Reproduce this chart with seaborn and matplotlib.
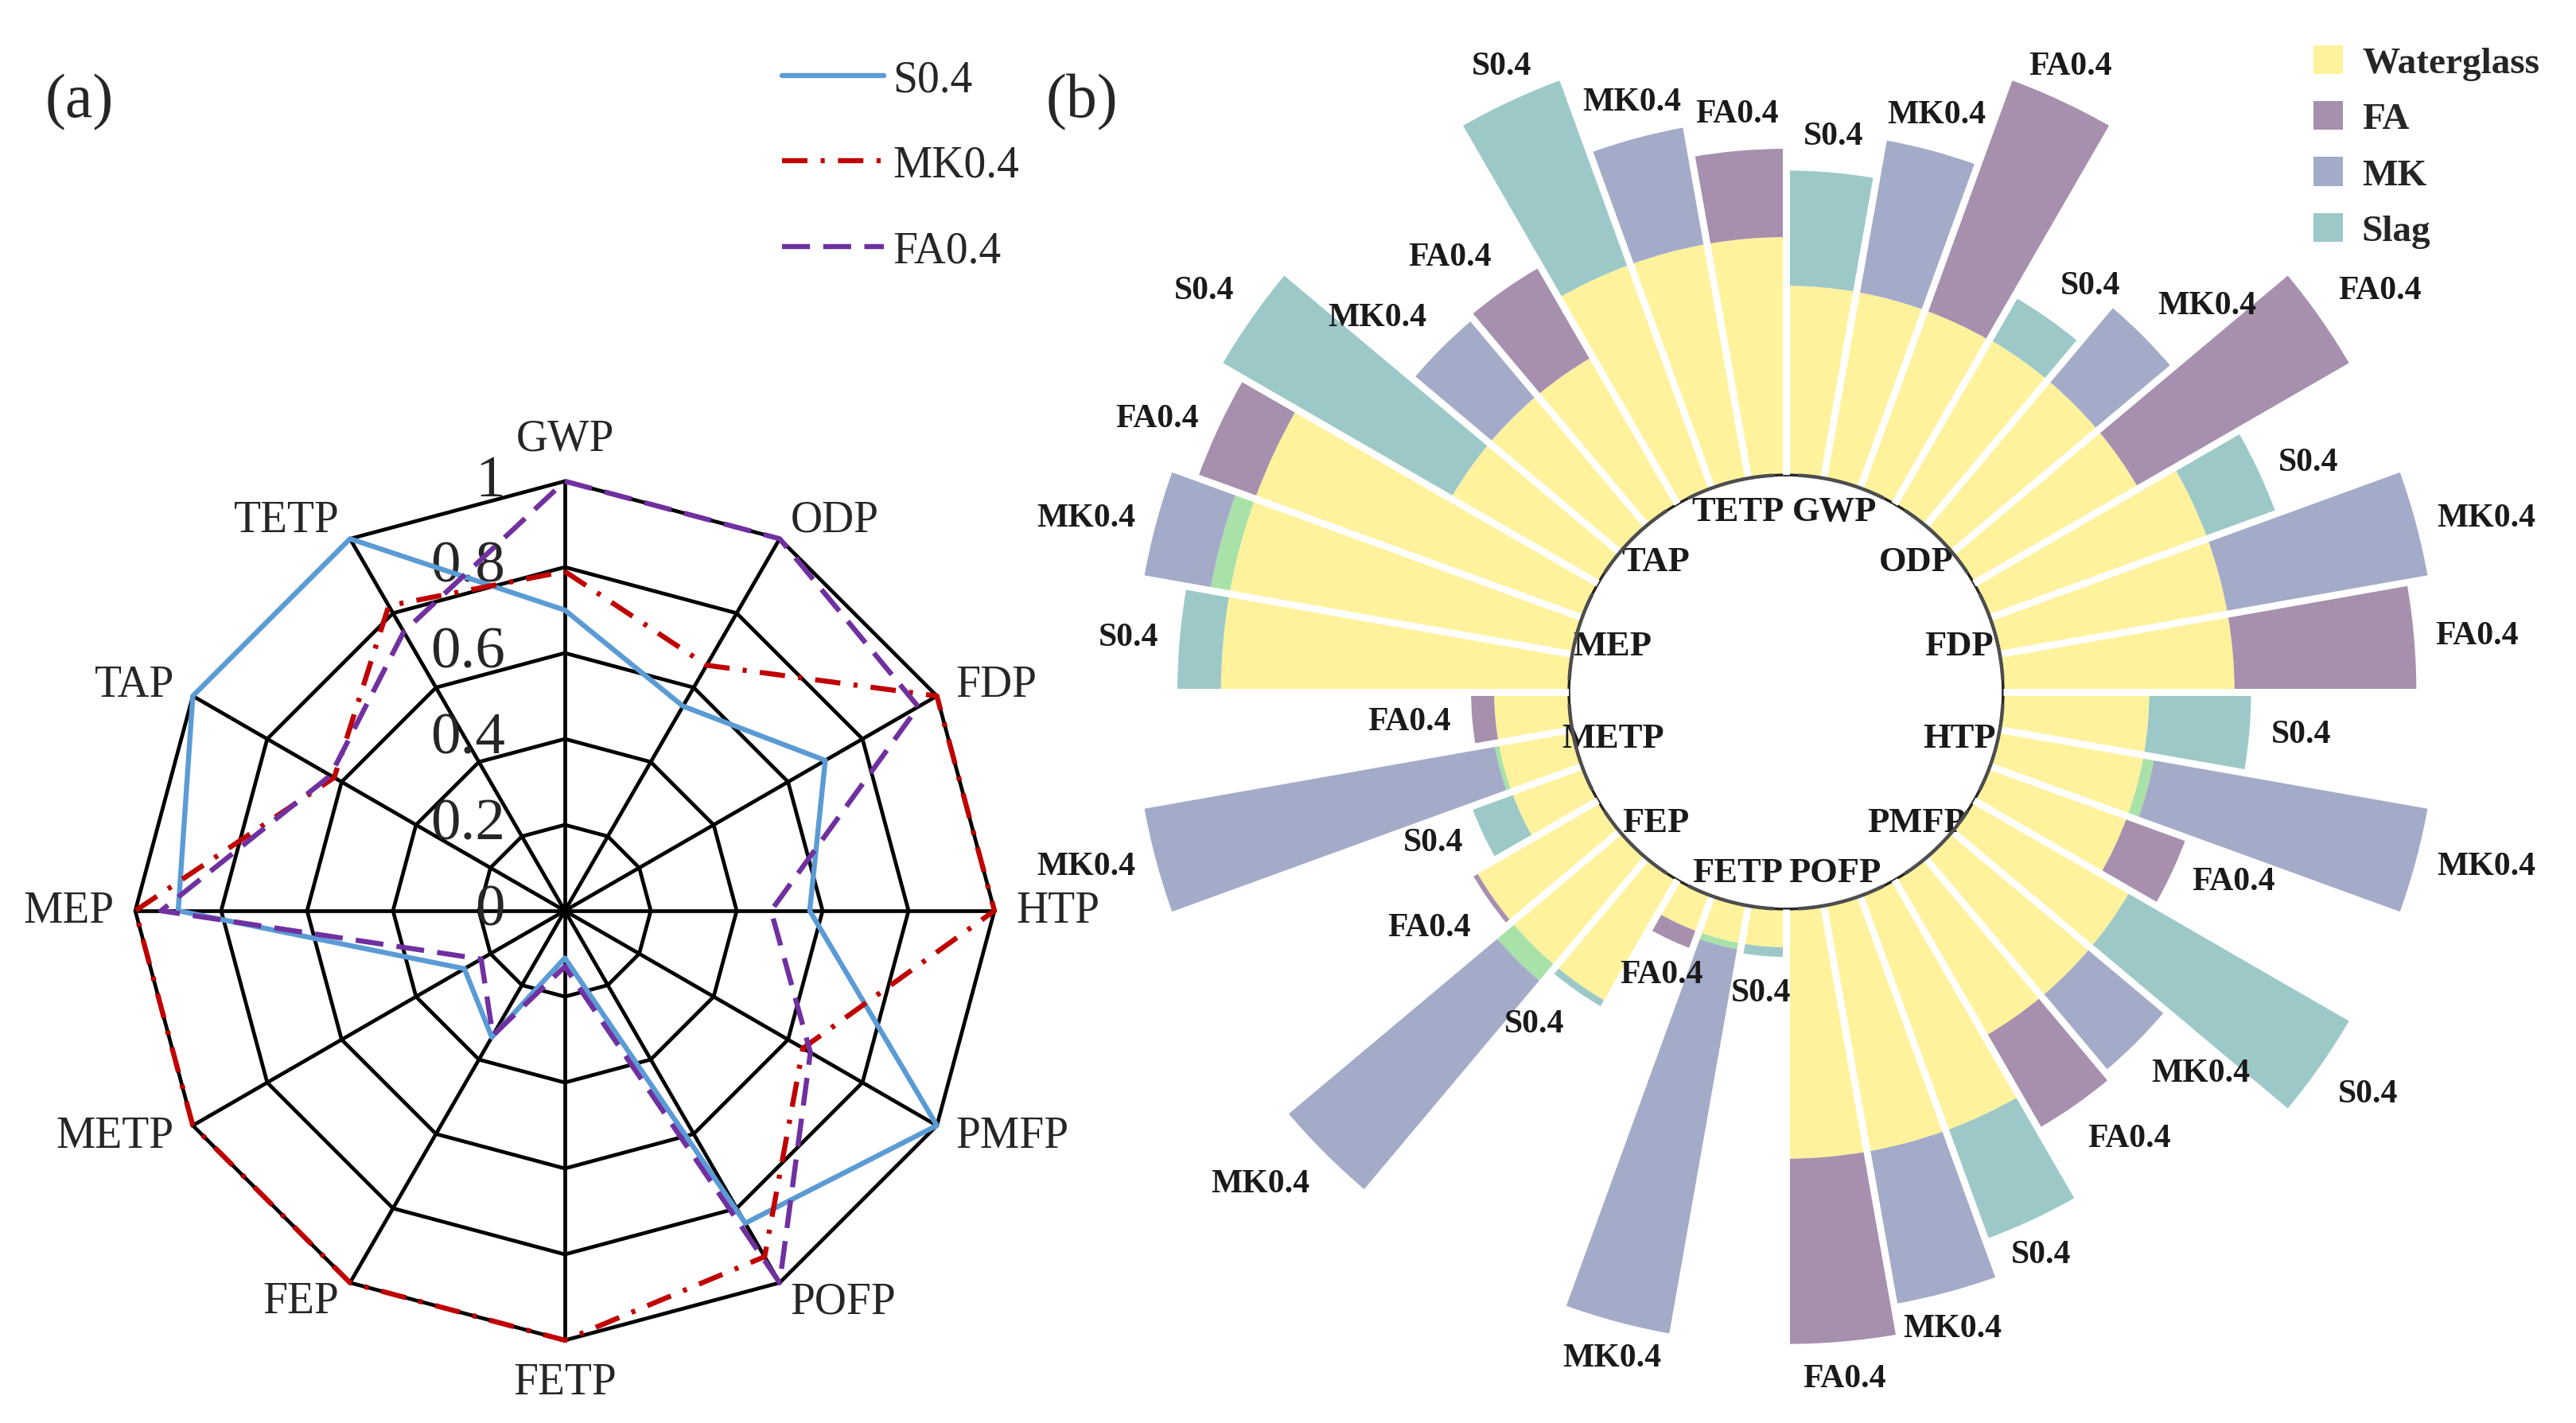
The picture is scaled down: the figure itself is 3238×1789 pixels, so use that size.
import numpy as np
import pandas as pd
import seaborn as sns
import matplotlib
matplotlib.use("Agg")
from matplotlib import pyplot as plt
from matplotlib.patches import Patch

# ---- data ----
categories = ["GWP", "ODP", "FDP", "HTP", "PMFP", "POFP", "FETP", "FEP", "METP", "MEP", "TAP", "TETP"]
mixes = ["S0.4", "MK0.4", "FA0.4"]

# normalised impact of each mix (max of a category = 1)
s04 = [0.70, 0.55, 0.70, 0.57, 1.00, 0.84, 0.11, 0.34, 0.27, 0.90, 1.00, 1.00]
mk04 = [0.79, 0.66, 1.00, 1.00, 0.64, 0.93, 1.00, 1.00, 1.00, 1.00, 0.62, 0.82]
fa04 = [1.00, 1.00, 0.95, 0.48, 0.66, 1.00, 0.13, 0.335, 0.225, 0.94, 0.63, 0.75]

# waterglass part (same for the three mixes of one category)
waterglass = [0.435, 0.437, 0.532, 0.336, 0.415, 0.574, 0.088, 0.324, 0.172, 0.80, 0.391, 0.547]
# thin light green band on some MK0.4 bars
mk_band = [0, 0, 0, 0.025, 0, 0, 0.015, 0.05, 0.01, 0.045, 0, 0]

ticks = [0, 0.2, 0.4, 0.6, 0.8, 1]
tick_labels = ["0", "0.2", "0.4", "0.6", "0.8", "1"]

line_colors = {"S0.4": "#5b9bd5", "MK0.4": "#c00000", "FA0.4": "#7030a0"}
bar_colors = {"S0.4": "#9cc9c7", "MK0.4": "#a4abc8", "FA0.4": "#a690ad"}
yellow = "#fff29d"
green = "#a8e2a8"

sns.set_theme(style="white")
plt.rcParams["font.family"] = ["Liberation Serif", "DejaVu Serif"]

W, H = 3238, 1790
fig = plt.figure(figsize=(W / 200, H / 200), dpi=200)


def box(cx, cy, half):
    # square axes centred on pixel (cx, cy) of the figure
    return [(cx - half) / W, 1 - (cy + half) / H, 2 * half / W, 2 * half / H]


totals = {"S0.4": s04, "MK0.4": mk04, "FA0.4": fa04}

# ---------------- (a) radar ----------------
ax1 = fig.add_axes(box(710, 1146, 540), projection="polar")
ax1.set_theta_zero_location("N")
ax1.set_theta_direction(-1)

theta = np.linspace(0, 2 * np.pi, len(categories), endpoint=False)
closed = np.append(theta, theta[0])

for v in ticks[1:]:
    ax1.plot(closed, [v] * len(closed), color="black", lw=1.7, clip_on=False, zorder=1)
for t in theta:
    ax1.plot([t, t], [0, 1], color="black", lw=1.7, clip_on=False, zorder=1)

radar = pd.DataFrame({
    "theta": np.tile(closed, 3),
    "value": np.concatenate([totals[m] + [totals[m][0]] for m in mixes]),
    "mix": np.repeat(mixes, len(closed)),
})

dash_styles = {"S0.4": None, "MK0.4": [5, 2.6, 0.8, 2.6], "FA0.4": [5.5, 2.6]}
handles = []
for m in mixes:
    sns.lineplot(data=radar[radar["mix"] == m], x="theta", y="value", sort=False,
                 estimator=None, color=line_colors[m], lw=2.3, ax=ax1, zorder=3)
    ln = ax1.lines[-1]
    ln.set_clip_on(False)
    if dash_styles[m] is not None:
        ln.set_dashes(dash_styles[m])
    handles.append(ln)

ax1.set_ylim(0, 1)
ax1.grid(False)
ax1.set_xticks([])
ax1.set_yticks([])
ax1.set_xlabel("")
ax1.set_ylabel("")
ax1.spines["polar"].set_visible(False)

for v, lab in zip(ticks, tick_labels):
    ax1.annotate(lab, xy=(0, v), xytext=(-27, 0), textcoords="offset points",
                 ha="right", va="center", fontsize=27, zorder=2)

for t, lab in zip(theta, categories):
    a = np.pi / 2 - t
    c, s = np.cos(a), np.sin(a)
    ha = "left" if c > 0.1 else ("right" if c < -0.1 else "center")
    va = "bottom" if s > 0.9 else ("top" if s < -0.9 else "center")
    ax1.text(t, 1.05, lab, ha=ha, va=va, fontsize=20)

fig.legend(handles, mixes, loc="upper left", bbox_to_anchor=(933 / W, 1 - 25 / H),
           frameon=False, fontsize=20, handlelength=2.3, handletextpad=0.2,
           labelspacing=1.0)

# ---------------- (b) polar stacked bars ----------------
ax2 = fig.add_axes(box(2245, 871, 847), projection="polar")
ax2.set_theta_zero_location("N")
ax2.set_theta_direction(-1)

rows = []
for g, cat in enumerate(categories):
    for j, m in enumerate(mixes):
        band = mk_band[g] if m == "MK0.4" else 0.0
        rows.append({
            "category": cat, "mix": m,
            "theta": np.deg2rad(5 + 10 * (3 * g + j)),
            "waterglass": waterglass[g], "band": band,
            "additive": totals[m][g] - waterglass[g] - band,
            "total": totals[m][g],
        })
bars = pd.DataFrame(rows)
width = np.deg2rad(10)

ax2.bar(bars["theta"], bars["waterglass"], width=width, color=yellow, linewidth=0)
ax2.bar(bars["theta"], bars["band"], bottom=bars["waterglass"], width=width,
        color=green, linewidth=0)
ax2.bar(bars["theta"], bars["additive"], bottom=bars["waterglass"] + bars["band"],
        width=width, color=[bar_colors[m] for m in bars["mix"]], linewidth=0)

rmax = 1.05
rorigin = -0.499
for k in range(len(bars)):
    t = np.deg2rad(10 * k)
    ax2.plot([t, t], [0, rmax], color="white", lw=3.2, solid_capstyle="butt", zorder=3)

for g in range(len(categories)):
    tt = np.deg2rad(np.linspace(30 * g + 3.5, 30 * g + 26.5, 60))
    ax2.plot(tt, np.zeros_like(tt), color="#4d4d4d", lw=1.6, clip_on=False, zorder=4)
    tc = np.deg2rad(30 * g + 15)
    # labels sit a bit further out at top and bottom of the hole
    r_lab = (222 + 14 * abs(np.cos(tc))) / 547 + rorigin
    ax2.text(tc, r_lab, categories[g], ha="center", va="center",
             fontsize=16, fontweight="bold", color="#1a1a1a")

for _, row in bars.iterrows():
    a = np.pi / 2 - row["theta"]
    c, s = np.cos(a), np.sin(a)
    ha = "left" if c > 0.5 else ("right" if c < -0.5 else "center")
    va = "bottom" if s > 0.5 else ("top" if s < -0.5 else "center")
    ax2.text(row["theta"], row["total"] + 0.05, row["mix"], ha=ha, va=va,
             fontsize=15, fontweight="bold", color="#1a1a1a")

ax2.set_ylim(0, rmax)
ax2.set_rorigin(rorigin)
ax2.grid(False)
ax2.set_xticks([])
ax2.set_yticks([])
ax2.spines["polar"].set_visible(False)

legend_names = ["Waterglass", "FA", "MK", "Slag"]
legend_cols = [yellow, bar_colors["FA0.4"], bar_colors["MK0.4"], bar_colors["S0.4"]]
fig.legend([Patch(facecolor=c, edgecolor="none") for c in legend_cols], legend_names,
           loc="upper left", bbox_to_anchor=(2865 / W, 1 - 15 / H), frameon=False,
           prop={"weight": "bold", "size": 17}, handlelength=0.8, handleheight=0.8,
           handletextpad=0.5, labelspacing=0.55)

fig.text(100 / W, 1 - 129 / H, "(a)", fontsize=28, ha="center", va="center")
fig.text(1360 / W, 1 - 129 / H, "(b)", fontsize=28, ha="center", va="center")

fig.savefig("out.png", dpi=200)
